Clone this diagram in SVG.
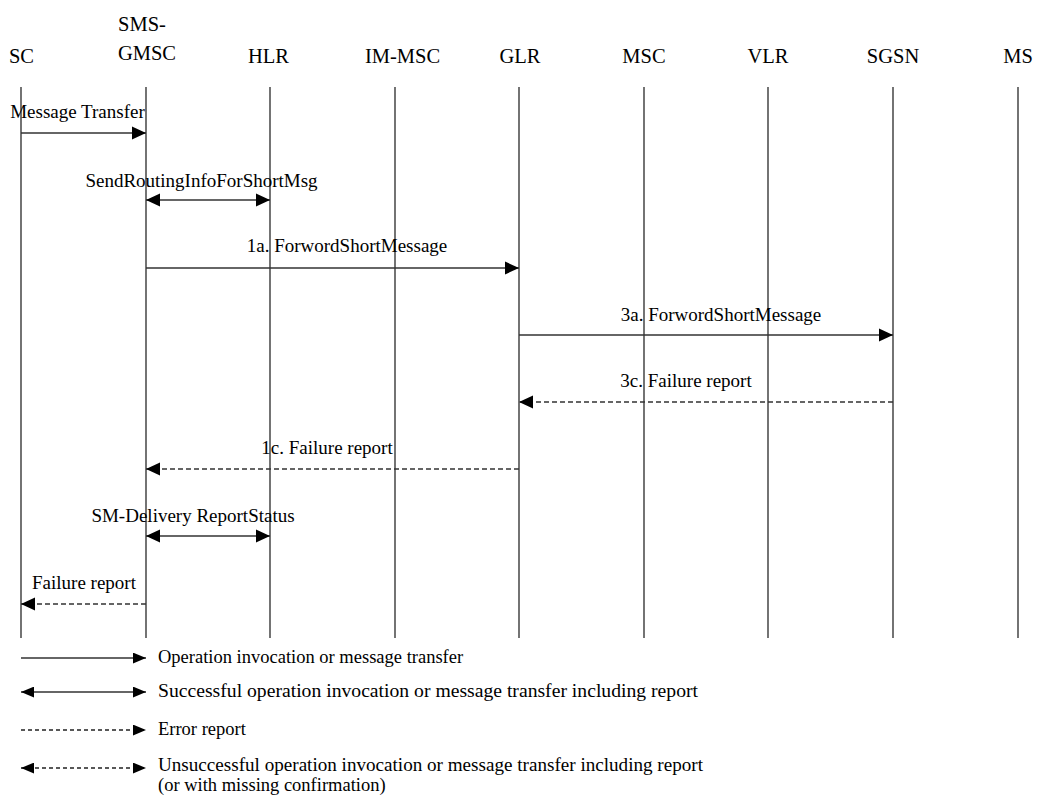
<svg xmlns="http://www.w3.org/2000/svg" width="1041" height="798" viewBox="0 0 1041 798">
<style>
text{font-family:"Liberation Serif","Times New Roman",serif;fill:#000}
.hdr{font-size:20.5px;text-anchor:middle}
.msg{font-size:19px;text-anchor:middle}
.leg{font-size:18.5px}
.life{stroke:#000;stroke-width:1.1;fill:none}
.m{stroke:#333;stroke-width:1.3;fill:none}
.d{stroke:#333;stroke-width:1.3;fill:none;stroke-dasharray:5 3}
.ld{stroke:#222;stroke-width:1.3;fill:none;stroke-dasharray:4 3}
</style>
<defs>
<marker id="ah" markerUnits="userSpaceOnUse" markerWidth="14" markerHeight="14" viewBox="0 0 13 12" refX="13" refY="6" orient="auto">
<path d="M0,0 L13,6 L0,12 Z" fill="#000"/>
</marker>
<marker id="as" markerUnits="userSpaceOnUse" markerWidth="14" markerHeight="14" viewBox="0 0 13 12" refX="13" refY="6" orient="auto-start-reverse">
<path d="M0,0 L13,6 L0,12 Z" fill="#000"/>
</marker>
<marker id="lh" markerUnits="userSpaceOnUse" markerWidth="13" markerHeight="11" viewBox="0 0 12 10" refX="12" refY="5" orient="auto-start-reverse">
<path d="M0,0 L12,5 L0,10 Z" fill="#000"/>
</marker>
</defs>

<g id="node-SC"><text class="hdr" x="21.5" y="63">SC</text><line class="life" x1="21" y1="87" x2="21" y2="638"/></g>
<g id="node-SMS-GMSC"><text class="hdr" x="142" y="31">SMS-</text><text class="hdr" x="147" y="60">GMSC</text><line class="life" x1="146" y1="87" x2="146" y2="638"/></g>
<g id="node-HLR"><text class="hdr" x="268.5" y="63">HLR</text><line class="life" x1="270" y1="87" x2="270" y2="638"/></g>
<g id="node-IM-MSC"><text class="hdr" x="402.5" y="63">IM-MSC</text><line class="life" x1="395" y1="87" x2="395" y2="638"/></g>
<g id="node-GLR"><text class="hdr" x="520" y="63">GLR</text><line class="life" x1="519" y1="87" x2="519" y2="638"/></g>
<g id="node-MSC"><text class="hdr" x="644" y="63">MSC</text><line class="life" x1="644" y1="87" x2="644" y2="638"/></g>
<g id="node-VLR"><text class="hdr" x="768" y="63">VLR</text><line class="life" x1="768" y1="87" x2="768" y2="638"/></g>
<g id="node-SGSN"><text class="hdr" x="893" y="63">SGSN</text><line class="life" x1="893" y1="87" x2="893" y2="638"/></g>
<g id="node-MS"><text class="hdr" x="1018" y="63">MS</text><line class="life" x1="1018" y1="87" x2="1018" y2="638"/></g>

<g id="connectors">
<line class="m" x1="21" y1="133" x2="146" y2="133" marker-end="url(#ah)"/>
<text class="msg" x="77.5" y="118">Message Transfer</text>
<line class="m" x1="146" y1="200" x2="270" y2="200" marker-start="url(#as)" marker-end="url(#as)"/>
<text class="msg" x="201.5" y="187">SendRoutingInfoForShortMsg</text>
<line class="m" x1="146" y1="268" x2="519" y2="268" marker-end="url(#ah)"/>
<text class="msg" x="347" y="252">1a. ForwordShortMessage</text>
<line class="m" x1="519" y1="335" x2="893" y2="335" marker-end="url(#ah)"/>
<text class="msg" x="721" y="321">3a. ForwordShortMessage</text>
<line class="d" x1="893" y1="402" x2="519" y2="402" marker-end="url(#ah)"/>
<text class="msg" x="686" y="387">3c. Failure report</text>
<line class="d" x1="519" y1="469" x2="146" y2="469" marker-end="url(#ah)"/>
<text class="msg" x="327" y="454">1c. Failure report</text>
<line class="m" x1="146" y1="536" x2="270" y2="536" marker-start="url(#as)" marker-end="url(#as)"/>
<text class="msg" x="193" y="522">SM-Delivery ReportStatus</text>
<line class="d" x1="146" y1="604" x2="21" y2="604" marker-end="url(#ah)"/>
<text class="msg" x="84" y="589">Failure report</text>
</g>

<g id="legend">
<line class="m" x1="21" y1="658" x2="146" y2="658" marker-end="url(#lh)"/>
<text class="leg" x="158" y="663">Operation invocation or message transfer</text>
<line class="m" x1="21" y1="692" x2="146" y2="692" marker-start="url(#lh)" marker-end="url(#lh)"/>
<text class="leg" x="158" y="697" textLength="540" lengthAdjust="spacingAndGlyphs">Successful operation invocation or message transfer including report</text>
<line class="ld" x1="21" y1="730" x2="146" y2="730" marker-end="url(#lh)"/>
<text class="leg" x="158" y="735">Error report</text>
<line class="ld" x1="21" y1="768" x2="146" y2="768" marker-start="url(#lh)" marker-end="url(#lh)"/>
<text class="leg" x="158" y="771" textLength="545" lengthAdjust="spacingAndGlyphs">Unsuccessful operation invocation or message transfer including report</text>
<text class="leg" x="158" y="791">(or with missing confirmation)</text>
</g>
</svg>
